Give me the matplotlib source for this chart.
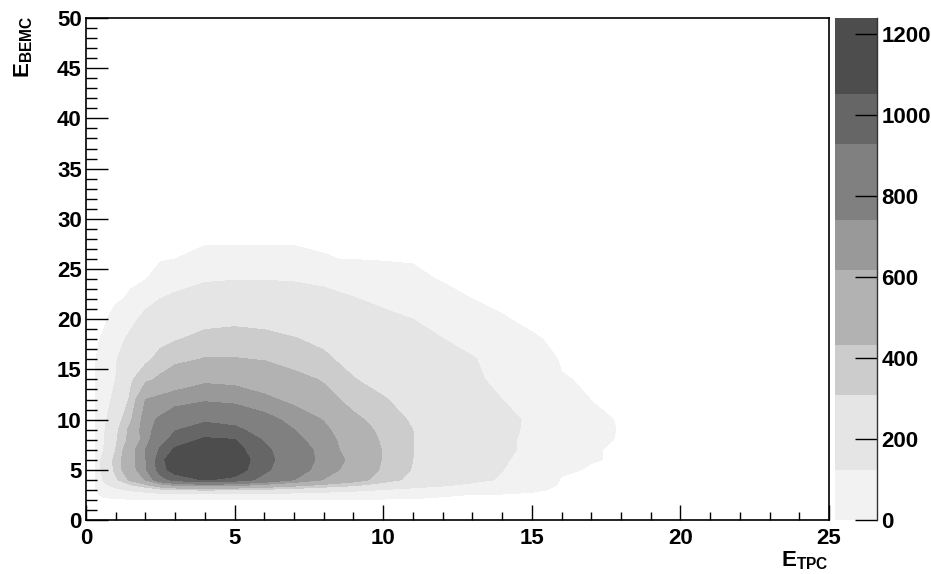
import numpy as np
import matplotlib
matplotlib.use("Agg")
import matplotlib.pyplot as plt
from matplotlib.colors import ListedColormap, BoundaryNorm
from matplotlib.ticker import MultipleLocator
import matplotlib.cm as cm

# grid nodes (E_TPC along x, E_BEMC along y)
x_tpc = [0.3, 0.6, 1, 1.5, 2, 2.5, 3, 4, 5, 6, 7, 8, 9, 10, 11, 12, 13, 14, 15, 16, 17, 18, 19]
y_bemc = [2, 2.5, 3, 3.5, 4, 5, 6, 7, 8, 9, 10, 12, 14, 16, 18, 20, 22, 24, 26, 28]

# counts per node, one row per y_bemc value
counts = [
    [0]*23,
    [0, 10, 20, 35, 45, 60, 70, 80, 75, 65, 55, 45, 35, 28, 20, 8, 4, 0, 0, 0, 0, 0, 0],
    [0, 40, 85, 140, 190, 260, 300, 320, 305, 270, 230, 190, 155, 115, 85, 65, 45, 30, 10, 0, 0, 0, 0],
    [0, 90, 185, 300, 410, 560, 650, 700, 670, 590, 500, 410, 340, 250, 180, 140, 100, 70, 35, 0, 0, 0, 0],
    [0, 140, 280, 460, 620, 850, 990, 1060, 1020, 880, 740, 610, 500, 370, 270, 210, 155, 110, 65, 0, 0, 0, 0],
    [0, 180, 345, 555, 720, 1010, 1100, 1170, 1120, 960, 815, 680, 560, 410, 300, 240, 180, 125, 80, 15, 0, 0, 0],
    [0, 185, 350, 565, 730, 1020, 1125, 1210, 1130, 980, 835, 700, 583, 421, 309, 251, 193, 135, 89, 47, 8, 0, 0],
    [0, 125, 310, 555, 741, 950, 1070, 1160, 1100, 960, 830, 690, 551, 425, 310, 255, 200, 145, 100, 60, 8, 0, 0],
    [0, 115, 290, 480, 690, 860, 990, 1070, 1055, 915, 780, 670, 545, 410, 310, 255, 200, 145, 100, 60, 20, 0, 0],
    [0, 105, 270, 480, 700, 790, 920, 980, 960, 860, 741, 650, 500, 400, 309, 255, 200, 150, 105, 70, 30, 0, 0],
    [0, 90, 240, 410, 700, 760, 830, 910, 880, 790, 700, 610, 460, 380, 290, 245, 195, 150, 108, 72, 20, 0, 0],
    [0, 70, 160, 330, 617, 660, 690, 720, 700, 650, 580, 480, 390, 320, 255, 200, 160, 123, 85, 45, 4, 0, 0],
    [0, 60, 123, 290, 400, 460, 520, 590, 580, 530, 475, 420, 315, 260, 215, 175, 140, 100, 65, 8, 0, 0, 0],
    [0, 40, 115, 200, 280, 350, 400, 440, 440, 425, 380, 330, 270, 230, 195, 160, 130, 85, 40, 0, 0, 0, 0],
    [0, 10, 80, 150, 230, 275, 300, 345, 350, 335, 315, 285, 230, 190, 160, 125, 90, 55, 8, 0, 0, 0, 0],
    [0, 0, 20, 90, 160, 200, 235, 270, 285, 280, 260, 230, 190, 155, 123, 85, 50, 7, 0, 0, 0, 0, 0],
    [0, 0, 0, 10, 80, 125, 150, 185, 200, 200, 190, 165, 130, 95, 60, 30, 5, 0, 0, 0, 0, 0, 0],
    [0, 0, 0, 0, 2, 35, 70, 110, 118, 118, 112, 95, 70, 45, 20, 0, 0, 0, 0, 0, 0, 0, 0],
    [0, 0, 0, 0, 0, 0, 5, 15, 15, 15, 15, 7, 3, 0, 0, 0, 0, 0, 0, 0, 0, 0, 0],
    [0]*23,
]

# palette bands as shown on the colour scale
band_edges = [0, 123, 309, 432, 617, 741, 929, 1052, 1240]
gray_colors = ["#f2f2f2", "#e5e5e5", "#cccccc", "#b2b2b2",
               "#999999", "#808080", "#666666", "#4d4d4d"]
cbar_ticks = [0, 200, 400, 600, 800, 1000, 1200]

plt.rcParams["font.family"] = "Liberation Sans"
plt.rcParams["font.weight"] = "bold"
plt.rcParams["mathtext.fontset"] = "custom"
plt.rcParams["mathtext.bf"] = "Liberation Sans:bold"
plt.rcParams["mathtext.rm"] = "Liberation Sans:bold"

W, H = 931, 574
fig = plt.figure(figsize=(W/100, H/100), dpi=100)
ax = fig.add_axes([86/W, 54/H, 743/W, 502/H])

levels = [5] + band_edges[1:]
ax.contourf(x_tpc, y_bemc, np.array(counts, float), levels=levels, colors=gray_colors)

ax.set_xlim(0, 25)
ax.set_ylim(0, 50)
ax.xaxis.set_major_locator(MultipleLocator(5))
ax.xaxis.set_minor_locator(MultipleLocator(1))
ax.yaxis.set_major_locator(MultipleLocator(5))
ax.yaxis.set_minor_locator(MultipleLocator(1))
ax.tick_params(which="both", direction="in", top=False, right=False, width=1, labelsize=16)
ax.tick_params(axis="x", which="major", length=11, pad=6)
ax.tick_params(axis="x", which="minor", length=5.5)
ax.tick_params(axis="y", which="major", length=16, pad=3)
ax.tick_params(axis="y", which="minor", length=8)
for s in ax.spines.values():
    s.set_linewidth(1.2)

fig.text(24/W, 1 - 16/H, r"$\mathbf{E_{BEMC}}$", rotation=90, ha="center", va="top", fontsize=16)
fig.text(829/W, 1 - 566/H, r"$\mathbf{E_{TPC}}$", ha="right", va="baseline", fontsize=16)

# colour scale
cax = fig.add_axes([835/W, 54/H, 42/W, 502/H])
sm = cm.ScalarMappable(norm=BoundaryNorm(band_edges, len(gray_colors)), cmap=ListedColormap(gray_colors))
cb = fig.colorbar(sm, cax=cax, ticks=cbar_ticks, spacing="proportional")
cb.outline.set_visible(False)
cb.minorticks_off()
cax.tick_params(direction="in", length=16, width=1, labelsize=16, pad=3, color="black")
cax.plot([1, 1], [0, 1], transform=cax.transAxes, color="#333333", lw=1, clip_on=False)

fig.savefig("out.png", dpi=100)
